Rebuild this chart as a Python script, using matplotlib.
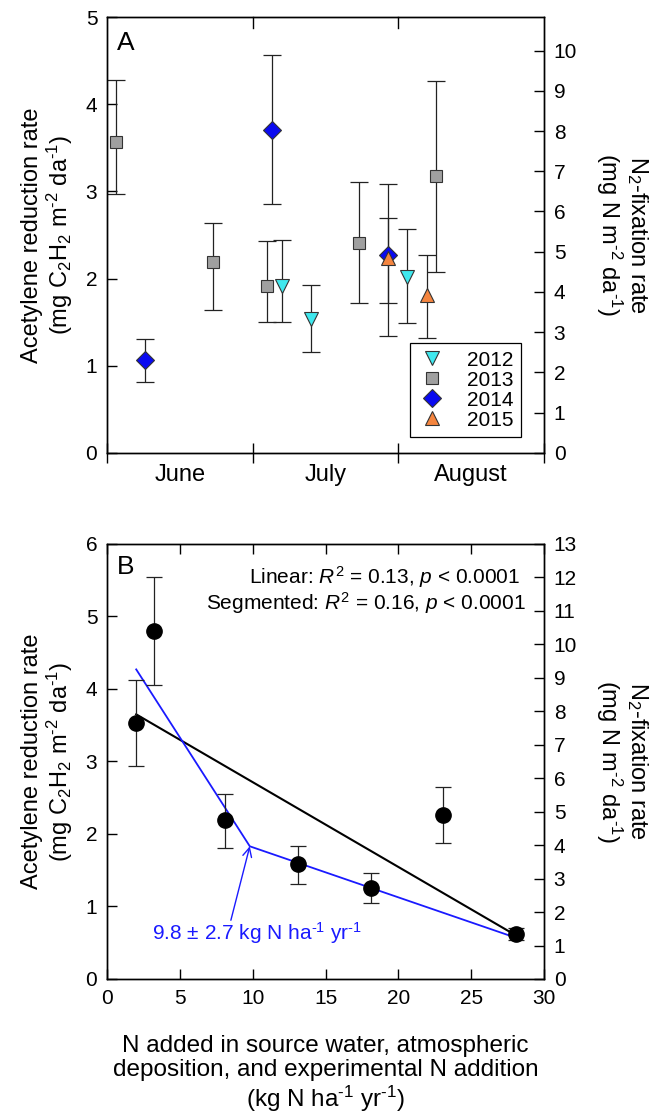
import matplotlib
matplotlib.use("Agg")
import matplotlib.pyplot as plt
from matplotlib.lines import Line2D

plt.rcParams['font.family'] = 'Liberation Sans'
plt.rcParams['mathtext.fontset'] = 'custom'
plt.rcParams['mathtext.rm'] = 'Liberation Sans'
plt.rcParams['mathtext.it'] = 'Liberation Sans:italic'
plt.rcParams['axes.linewidth'] = 1.0

# ---- panel A: sampling dates (months after 1 June) and acetylene reduction
months = ['June', 'July', 'August']

x2012 = [1.20, 1.40, 2.06]
y2012 = [1.91, 1.54, 2.02]
lo2012 = [1.50, 1.16, 1.49]
hi2012 = [2.44, 1.92, 2.57]

x2013 = [0.06, 0.73, 1.10, 1.73, 2.26]
y2013 = [3.57, 2.19, 1.91, 2.41, 3.18]
lo2013 = [2.97, 1.64, 1.50, 1.72, 2.08]
hi2013 = [4.28, 2.64, 2.43, 3.11, 4.27]

x2014 = [0.26, 1.13, 1.93]
y2014 = [1.06, 3.70, 2.27]
lo2014 = [0.81, 2.85, 1.34]
hi2014 = [1.31, 4.57, 3.08]

x2015 = [1.93, 2.20]
y2015 = [2.24, 1.81]
lo2015 = [1.72, 1.32]
hi2015 = [2.69, 2.27]

# ---- panel B: N loading vs acetylene reduction
n_added = [2.0, 3.2, 8.1, 13.1, 18.1, 23.1, 28.1]
ara = [3.53, 4.80, 2.19, 1.58, 1.26, 2.26, 0.62]
ara_lo = [2.94, 4.06, 1.81, 1.31, 1.05, 1.87, 0.54]
ara_hi = [4.12, 5.54, 2.55, 1.84, 1.46, 2.65, 0.71]

lin_x = [2.0, 28.0]
lin_y = [3.65, 0.61]
seg_x = [2.0, 9.8, 28.2]
seg_y = [4.27, 1.83, 0.56]

ara_per_n2 = 6 / 13.0  # conversion acetylene -> N2 fixation

HY = '\u2010'  # plain hyphen for the exponents
units_ara = '(mg C$_2$H$_2$ m$^{%s2}$ da$^{%s1}$)' % (HY, HY)
units_n2 = '(mg N m$^{%s2}$ da$^{%s1}$)' % (HY, HY)

fig = plt.figure(figsize=(6.53, 11.14), dpi=100)

# ================= A =================
ax = fig.add_axes([0.164, 0.5936, 0.669, 0.391])

def yerr(y, lo, hi):
    return [[a - b for a, b in zip(y, lo)], [c - a for a, c in zip(y, hi)]]

series = [
    (x2012, y2012, lo2012, hi2012, 'v', '#3fe8ee', 10, '2012'),
    (x2013, y2013, lo2013, hi2013, 's', '#a0a0a0', 9, '2013'),
    (x2014, y2014, lo2014, hi2014, 'D', '#0a0af0', 9.5, '2014'),
    (x2015, y2015, lo2015, hi2015, '^', '#f5853f', 10, '2015'),
]
handles = []
for xs, ys, lo, hi, mk, col, ms, lab in series:
    ax.errorbar(xs, ys, yerr=yerr(ys, lo, hi), fmt='none', ecolor='#222222',
                elinewidth=0.9, capsize=6.5, capthick=0.9, zorder=2)
    ax.plot(xs, ys, linestyle='none', marker=mk, ms=ms, mfc=col,
            mec='#333333', mew=0.8, zorder=3)
    handles.append(Line2D([], [], linestyle='none', marker=mk, ms=ms,
                          mfc=col, mec='#333333', mew=0.8, label=lab))

ax.set_xlim(0, 3)
ax.set_ylim(0, 5)
ax.set_xticks([0, 1, 2, 3])
ax.set_xticklabels([])
ax.set_xticks([0.5, 1.5, 2.5], minor=True)
ax.set_xticklabels(months, minor=True, fontsize=17)
ax.tick_params(axis='x', which='major', direction='inout', length=14,
               width=1.0, top=False)
ax.tick_params(axis='x', which='minor', length=0, pad=8)
ax.set_yticks(range(6))
ax.tick_params(axis='y', direction='in', length=7, width=1.0,
               labelsize=15, pad=7)
# short inward marks on the top edge at the month boundaries
for xb in [1, 2]:
    ax.plot([xb, xb], [5, 4.88], color='black', lw=1.0, clip_on=False)

ax.set_ylabel('Acetylene reduction rate\n' + units_ara,
              fontsize=17, linespacing=1.05, labelpad=8)
ax.text(0.022, 0.925, 'A', transform=ax.transAxes, fontsize=19)

leg = ax.legend(handles=handles, loc='lower right',
                bbox_to_anchor=(0.947, 0.036), fontsize=15, frameon=True,
                fancybox=False, edgecolor='black', framealpha=1,
                borderpad=0.35, handlelength=1.4, handletextpad=1.0,
                labelspacing=0.05, borderaxespad=0)
leg.get_frame().set_linewidth(0.9)

ax2 = ax.twinx()
ax2.set_ylim(0, 5 / ara_per_n2)
ax2.set_yticks(range(11))
ax2.tick_params(axis='y', direction='in', length=7, width=1.0,
                labelsize=15, pad=7)
ax2.set_ylabel('N$_2$-fixation rate\n' + units_n2,
               fontsize=17, rotation=270, va='bottom', linespacing=1.05,
               labelpad=12)

# ================= B =================
bx = fig.add_axes([0.164, 0.1212, 0.669, 0.3905])
bx.plot(lin_x, lin_y, color='black', lw=1.5, zorder=2)
bx.plot(seg_x, seg_y, color='#1a1aff', lw=1.3, zorder=2)
bx.errorbar(n_added, ara, yerr=yerr(ara, ara_lo, ara_hi), fmt='none',
            ecolor='#222222', elinewidth=0.9, capsize=6, capthick=0.9,
            zorder=3)
bx.plot(n_added, ara, linestyle='none', marker='o', ms=11, mfc='black',
        mec='black', zorder=4)

bx.set_xlim(0, 30)
bx.set_ylim(0, 6)
bx.set_xticks(range(0, 31, 5))
bx.set_yticks(range(7))
bx.tick_params(axis='both', direction='in', length=7, width=1.0,
               labelsize=15, pad=7)
bx.tick_params(axis='x', top=True)

bx.set_ylabel('Acetylene reduction rate\n' + units_ara,
              fontsize=17, linespacing=1.05, labelpad=8)
bx.set_xlabel('N added in source water, atmospheric\n'
              'deposition, and experimental N addition\n'
              '(kg N ha$^{%s1}$ yr$^{%s1}$)' % (HY, HY), fontsize=17.5,
              linespacing=1.1, labelpad=20)
bx.text(0.022, 0.93, 'B', transform=bx.transAxes, fontsize=19)
bx.text(0.945, 0.924, r'Linear: $\it{R}^2$ = 0.13, $\it{p}$ < 0.0001',
        transform=bx.transAxes, ha='right', va='center', fontsize=15)
bx.text(0.959, 0.865, r'Segmented: $\it{R}^2$ = 0.16, $\it{p}$ < 0.0001',
        transform=bx.transAxes, ha='right', va='center', fontsize=15)

bx.annotate('', xy=(seg_x[1], seg_y[1]), xytext=(8.5, 0.81),
            arrowprops=dict(arrowstyle='->', color='#1a1aff', lw=1.0,
                            shrinkA=0, shrinkB=0, mutation_scale=16))
bx.text(3.1, 0.63, '9.8 \u00b1 2.7 kg N ha$^{%s1}$ yr$^{%s1}$' % (HY, HY),
        color='#1a1aff', fontsize=15, va='center')

bx2 = bx.twinx()
bx2.set_ylim(0, 6 / ara_per_n2)
bx2.set_yticks(range(14))
bx2.tick_params(axis='y', direction='in', length=7, width=1.0,
                labelsize=15, pad=7)
bx2.set_ylabel('N$_2$-fixation rate\n' + units_n2,
               fontsize=17, rotation=270, va='bottom', linespacing=1.05,
               labelpad=12)

fig.savefig('out.png', dpi=100)
